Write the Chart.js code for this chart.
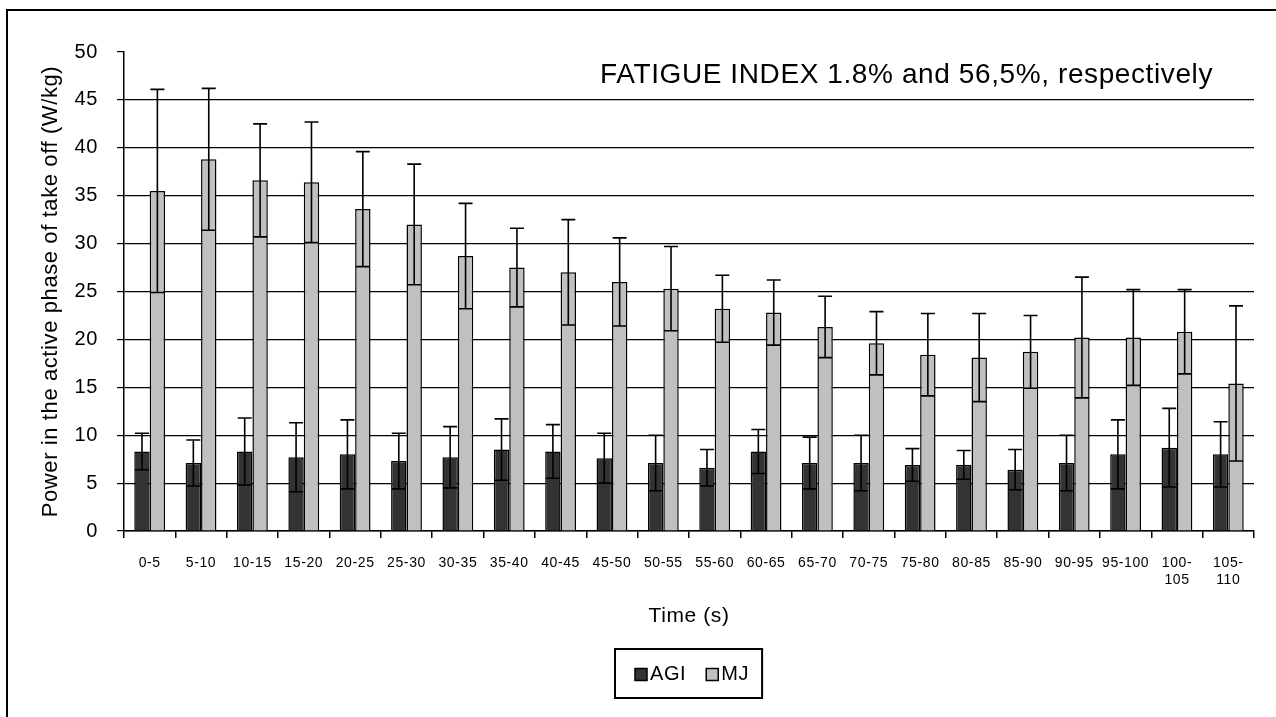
<!DOCTYPE html>
<html>
<head>
<meta charset="utf-8">
<title>Power in the active phase of take off</title>
<script src="https://cdn.jsdelivr.net/npm/chart.js@4.4.1/dist/chart.umd.min.js"></script>
<style>
  body { margin: 0; background: #fff; }
  #wrap { position: relative; width: 1276px; height: 717px; }
  #fatigueChart { display: block; }
  /* the thin frame round the original figure (left and top edges only show) */
  #frame { position: absolute; left: 6px; top: 9px; right: 0; bottom: 0;
           border-left: 2px solid #000; border-top: 2px solid #000; pointer-events: none; }
</style>
</head>
<body>
<div id="wrap">
  <canvas id="fatigueChart" width="1276" height="717"></canvas>
  <div id="frame"></div>
</div>
<script>
// Time windows (s)
const timeLabels = [
  "0-5", "5-10", "10-15", "15-20", "20-25", "25-30", "30-35", "35-40",
  "40-45", "45-50", "50-55", "55-60", "60-65", "65-70", "70-75", "75-80",
  "80-85", "85-90", "90-95", "95-100", ["100-", "105"], ["105-", "110"]
];

// AGI means and SD (W/kg)
const agiMean = [8.3, 7.1, 8.3, 7.7, 8.0, 7.3, 7.7, 8.5, 8.3, 7.6, 7.1, 6.6, 8.3, 7.1, 7.1, 6.9, 6.9, 6.4, 7.1, 8.0, 8.7, 8.0];
const agiSd = [1.9, 2.4, 3.5, 3.6, 3.6, 2.9, 3.2, 3.2, 2.8, 2.6, 2.9, 1.9, 2.3, 2.7, 2.9, 1.7, 1.5, 2.1, 2.9, 3.6, 4.1, 3.4];

// MJ means and SD (W/kg)
const mjMean = [35.5, 38.8, 36.6, 36.4, 33.6, 32.0, 28.7, 27.5, 27.0, 26.0, 25.3, 23.2, 22.8, 21.3, 19.6, 18.4, 18.1, 18.7, 20.2, 20.2, 20.8, 15.4];
const mjSd = [10.6, 7.4, 5.9, 6.3, 6.0, 6.3, 5.5, 4.1, 5.5, 4.6, 4.4, 3.5, 3.4, 3.2, 3.3, 4.3, 4.6, 3.8, 6.3, 5.0, 4.4, 8.1];

// Y axis range
const yMin = 0;
const yMax = 50;
const yStep = 5;

const noteText = "FATIGUE INDEX 1.8% and 56,5%, respectively";

const FONT = "'Liberation Sans', Arial, sans-serif";

// the original text is set a little loose
const spacingPlugin = {
  id: "spacing",
  beforeDraw(chart) {
    chart.ctx.letterSpacing = "0.6px";
  },
};

// Draws the +/- SD whiskers on every bar
const errorBarsPlugin = {
  id: "errorBars",
  afterDatasetsDraw(chart) {
    const ctx = chart.ctx;
    const yScale = chart.scales.y;
    ctx.save();
    ctx.strokeStyle = "#000";
    ctx.lineWidth = 1.6;
    chart.data.datasets.forEach((ds, di) => {
      const meta = chart.getDatasetMeta(di);
      meta.data.forEach((bar, i) => {
        const hi = yScale.getPixelForValue(ds.data[i] + ds.sd[i]);
        const lo = yScale.getPixelForValue(ds.data[i] - ds.sd[i]);
        const x = bar.x;
        const cap = 7;
        ctx.beginPath();
        ctx.moveTo(x, hi);
        ctx.lineTo(x, lo);
        ctx.moveTo(x - cap, hi);
        ctx.lineTo(x + cap, hi);
        ctx.moveTo(x - cap, lo);
        ctx.lineTo(x + cap, lo);
        ctx.stroke();
      });
    });
    ctx.restore();
  },
};

// Note text inside the plot and the boxed legend under the axis title
const extrasPlugin = {
  id: "extras",
  afterDraw(chart) {
    const ctx = chart.ctx;
    const area = chart.chartArea;
    ctx.save();

    // fatigue index note
    ctx.fillStyle = "#000";
    ctx.font = "28px " + FONT;
    ctx.textAlign = "right";
    ctx.textBaseline = "middle";
    ctx.fillText(noteText, area.right - 41, area.top + 23);

    // legend
    ctx.font = "20px " + FONT;
    ctx.textAlign = "left";
    const items = chart.data.datasets.map((ds) => ({
      label: ds.label,
      color: ds.backgroundColor,
      w: ctx.measureText(ds.label).width,
    }));
    const box = 12, gapText = 3, gapItem = 20, padL = 20, padR = 13;
    let w = padL + padR + gapItem * (items.length - 1);
    items.forEach((it) => (w += box + gapText + it.w));
    const h = 49;
    const left = Math.round((area.left + area.right) / 2 - w / 2);
    const top = 649;
    ctx.strokeStyle = "#000";
    ctx.lineWidth = 2;
    ctx.strokeRect(left, top, w, h);
    let x = left + padL;
    const cy = top + h / 2 + 1;
    items.forEach((it) => {
      ctx.fillStyle = it.color;
      ctx.fillRect(x, cy - box / 2, box, box);
      ctx.lineWidth = 1.5;
      ctx.strokeRect(x, cy - box / 2, box, box);
      x += box + gapText;
      ctx.fillStyle = "#000";
      ctx.fillText(it.label, x, cy);
      x += it.w + gapItem;
    });
    ctx.restore();
  },
};

function createChart() {
  const ctx = document.getElementById("fatigueChart").getContext("2d");

  new Chart(ctx, {
    type: "bar",
    data: {
      labels: timeLabels,
      datasets: [
        {
          label: "AGI",
          data: agiMean,
          sd: agiSd,
          backgroundColor: "#333333",
          borderColor: "#000",
          borderWidth: 1.5,
          categoryPercentage: 0.6,
          barPercentage: 1.0,
        },
        {
          label: "MJ",
          data: mjMean,
          sd: mjSd,
          backgroundColor: "#c0c0c0",
          borderColor: "#000",
          borderWidth: 1.5,
          categoryPercentage: 0.6,
          barPercentage: 1.0,
        },
      ],
    },
    options: {
      responsive: false,
      animation: false,
      layout: {
        padding: { left: 30, right: 22, top: 52, bottom: 76 },
      },
      plugins: {
        legend: { display: false },
        tooltip: { enabled: false },
      },
      scales: {
        y: {
          min: yMin,
          max: yMax,
          afterFit: (scale) => {
            scale.width = 94;
          },
          ticks: {
            stepSize: yStep,
            color: "#000",
            padding: 19,
            font: { family: FONT, size: 20 },
          },
          grid: {
            color: (c) => (c.tick && c.tick.value === yMax ? "rgba(0,0,0,0)" : "#000"),
            tickColor: "#000",
            tickLength: 7,
            lineWidth: 1.2,
          },
          border: { color: "#000", width: 1.5 },
          title: {
            display: true,
            text: "Power in the active phase of take off (W/kg)",
            color: "#000",
            padding: { top: 8, bottom: 0 },
            font: { family: FONT, size: 22 },
          },
        },
        x: {
          afterFit: (scale) => {
            scale.height = 110;
          },
          ticks: {
            color: "#000",
            padding: 17,
            maxRotation: 0,
            autoSkip: false,
            font: { family: FONT, size: 14 },
          },
          grid: {
            drawOnChartArea: false,
            color: "#000",
            tickLength: 7,
            lineWidth: 1.5,
          },
          border: { color: "#000", width: 1.5 },
          title: {
            display: true,
            text: "Time (s)",
            color: "#000",
            padding: { top: 4, bottom: 12 },
            font: { family: FONT, size: 21 },
          },
        },
      },
    },
    plugins: [spacingPlugin, errorBarsPlugin, extrasPlugin],
  });
}

document.addEventListener("DOMContentLoaded", createChart);
</script>
</body>
</html>
